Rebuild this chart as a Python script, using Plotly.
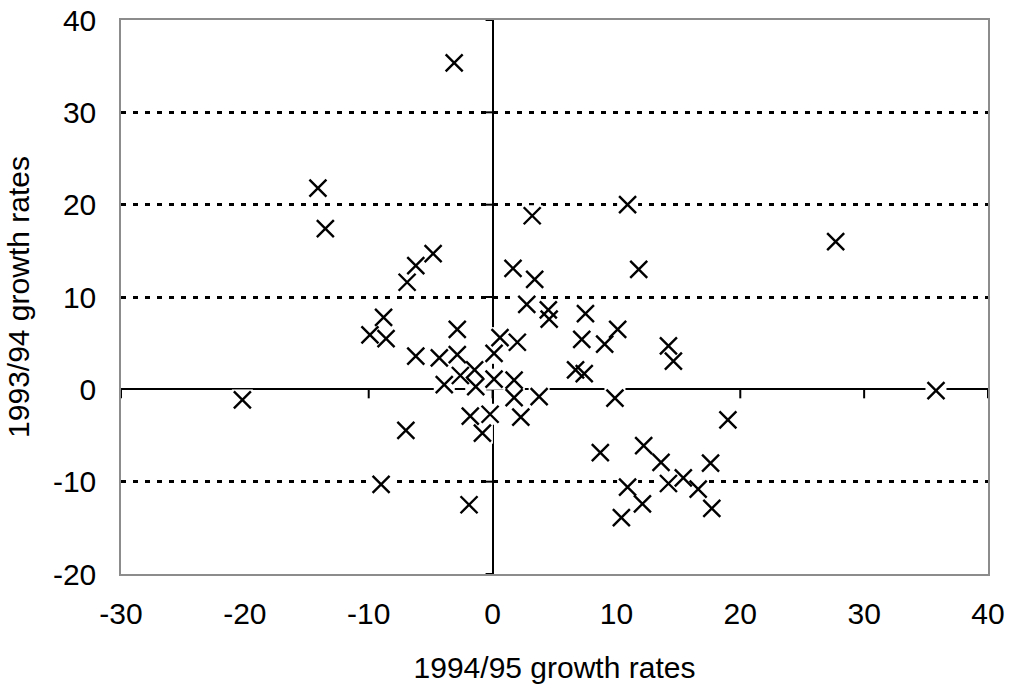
import plotly.graph_objects as go

# 1994/95 growth rates (x) and 1993/94 growth rates (y)
growth_9495 = [
    -3.1, -14.1, -13.5, -20.2, 10.9, 3.2, 27.7, -4.8, -6.2, -6.9,
    1.65, 3.4, 11.8, 2.76, 4.57, 4.5, 7.5, 7.2, 9.05, 10.1,
    -8.8, -9.9, -8.6, -2.85, -6.2, -4.3, -2.85, 0.12, 0.6, 2.0,
    -1.45, -2.6, -3.9, -1.36, 0.12, 1.74, 1.74, 3.76, -1.8, -0.2,
    2.28, -0.82, -7.0, -9.0, -1.9, 9.88, 7.4, 6.7, 8.7, 12.2,
    13.6, 17.6, 10.9, 14.2, 15.4, 16.6, 12.1, 10.4, 17.7, 19.0,
    35.8, 14.2, 14.6,
]
growth_9394 = [
    35.35, 21.8, 17.4, -1.15, 20.0, 18.8, 16.0, 14.7, 13.4, 11.6,
    13.1, 11.9, 13.0, 9.2, 7.6, 8.6, 8.2, 5.4, 4.9, 6.5,
    7.8, 5.9, 5.5, 6.5, 3.6, 3.4, 3.75, 3.9, 5.6, 5.1,
    2.1, 1.5, 0.5, 0.3, 1.1, 1.0, -0.9, -0.8, -2.9, -2.7,
    -3.0, -4.75, -4.45, -10.3, -12.5, -0.95, 1.7, 2.1, -6.85, -6.1,
    -7.9, -8.0, -10.6, -10.2, -9.6, -10.8, -12.4, -13.9, -12.9, -3.3,
    -0.15, 4.7, 3.05,
]

x_ticks = [-30, -20, -10, 0, 10, 20, 30, 40]
y_ticks = [-20, -10, 0, 10, 20, 30, 40]

FONT = "Liberation Sans, Arial, sans-serif"

fig = go.Figure()

# white marker background (erases lines under each marker, as in the original)
fig.add_trace(go.Scatter(
    x=growth_9495, y=growth_9394, mode="markers",
    marker=dict(symbol="square", size=21, color="white", line=dict(width=0)),
    hoverinfo="skip", showlegend=False, cliponaxis=False,
))
fig.add_trace(go.Scatter(
    x=growth_9495, y=growth_9394, mode="markers",
    marker=dict(symbol="x-thin", size=17, color="black",
                line=dict(width=2.4, color="black")),
    showlegend=False, cliponaxis=False,
))

shapes = []
# small ticks on the vertical zero line (pointing left)
for v in y_ticks:
    shapes.append(dict(type="line", xref="x", yref="y", xsizemode="pixel",
                       xanchor=0, x0=-7, x1=0, y0=v, y1=v,
                       line=dict(color="black", width=2), layer="between"))
# small ticks on the horizontal zero line (pointing down)
for v in x_ticks:
    shapes.append(dict(type="line", xref="x", yref="y", ysizemode="pixel",
                       yanchor=0, y0=-9, y1=0, x0=v, x1=v,
                       line=dict(color="black", width=2), layer="between"))

fig.update_layout(
    width=1013, height=690,
    margin=dict(l=121, r=25, t=20, b=116, autoexpand=False),
    paper_bgcolor="white", plot_bgcolor="white",
    font=dict(family=FONT, size=30, color="black"),
    shapes=shapes,
    xaxis=dict(
        range=[-30, 40], tickvals=x_ticks, ticktext=[str(t) for t in x_ticks],
        showgrid=False, zeroline=True, zerolinecolor="black", zerolinewidth=2,
        showline=True, linecolor="#8c8c8c", linewidth=1.5, mirror=True,
        ticks="", ticklabelstandoff=12,
        tickfont=dict(family=FONT, size=30, color="black"),
        title=dict(text="1994/95 growth rates", standoff=28,
                   font=dict(family=FONT, size=30, color="black")),
        automargin=False,
    ),
    yaxis=dict(
        range=[-20, 40], tickvals=y_ticks, ticktext=[str(t) for t in y_ticks],
        showgrid=True, gridcolor="black", gridwidth=2.5, griddash="5px,7px",
        zeroline=True, zerolinecolor="black", zerolinewidth=2,
        showline=True, linecolor="#8c8c8c", linewidth=1.5, mirror=True,
        ticks="", ticklabelstandoff=17,
        tickfont=dict(family=FONT, size=30, color="black"),
        title=dict(text="1993/94 growth rates", standoff=14,
                   font=dict(family=FONT, size=30, color="black")),
        automargin=False,
    ),
)

fig.write_html("out.html", config={"displayModeBar": False},
               post_script="document.body.style.margin='0';")
